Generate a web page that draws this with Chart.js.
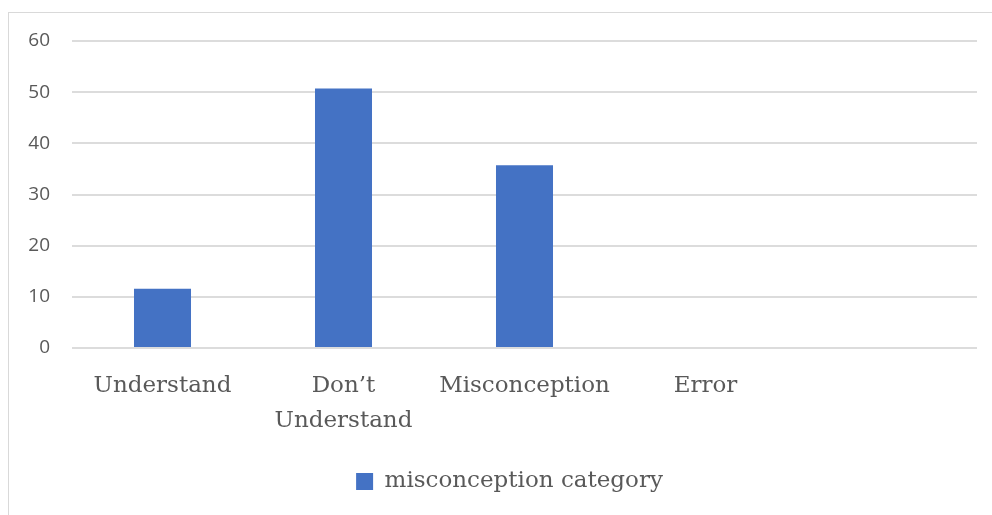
<!DOCTYPE html>
<html>
<head>
    <title>Misconception category</title>
    <style>
        body {
            margin: 0;
            background: #ffffff;
        }
        #frame {
            position: absolute;
            left: 8px;
            top: 12px;
            width: 1000px;
            height: 520px;
            border-top: 1px solid #d9d9d9;
            border-left: 1px solid #d9d9d9;
        }
        #chartContainer {
            position: absolute;
            left: 0;
            top: 0;
            width: 992px;
            height: 515px;
        }
    </style>
    <script src="https://cdn.jsdelivr.net/npm/chart.js"></script>
</head>
<body>
    <div id="frame"></div>
    <div id="chartContainer">
        <canvas id="myChart"></canvas>
    </div>

    <script>
        // data
        let categories = [["Understand"], ["Don\u2019t", "Understand"], ["Misconception"], ["Error"], [""]];
        let seriesName = 'misconception category';
        let values = [11.6, 50.7, 35.7, 0, null];
        let yTicks = [0, 10, 20, 30, 40, 50, 60];

        // legend sits a bit right of the canvas centre in the original
        const legendShift = {
            id: 'legendShift',
            afterLayout(chart) {
                chart.legend.left += 21;
                chart.legend.right += 21;
            }
        };

        let ctx = document.getElementById('myChart').getContext('2d');
        let myChart = new Chart(ctx, {
            type: 'bar',
            data: {
                labels: categories,
                datasets: [{
                    label: seriesName,
                    data: values,
                    backgroundColor: '#4472C4',
                    borderWidth: 0,
                    barPercentage: 0.315,
                    categoryPercentage: 1
                }]
            },
            options: {
                responsive: true,
                maintainAspectRatio: false,
                animation: false,
                layout: {
                    padding: { left: 0, right: 15, top: 41, bottom: 12 }
                },
                plugins: {
                    tooltip: { enabled: false },
                    legend: {
                        position: 'bottom',
                        labels: {
                            boxWidth: 17,
                            boxHeight: 17,
                            padding: 10,
                            color: '#595959',
                            font: { family: 'DejaVu Serif', size: 23 }
                        }
                    }
                },
                scales: {
                    x: {
                        grid: { display: false },
                        border: { display: false },
                        ticks: {
                            color: '#595959',
                            padding: 12,
                            maxRotation: 0,
                            autoSkip: false,
                            font: { family: 'DejaVu Serif', size: 23, lineHeight: 1.55 }
                        },
                        afterFit: function(scale) { scale.height = 112; }
                    },
                    y: {
                        min: 0,
                        max: 60,
                        afterBuildTicks: function(scale) {
                            scale.ticks = yTicks.map(v => ({ value: v }));
                        },
                        grid: { color: '#dcdcdc', lineWidth: 2, drawTicks: false },
                        border: { display: false },
                        ticks: {
                            color: '#595959',
                            padding: 22,
                            font: { family: 'Open Sans', size: 19 }
                        },
                        afterFit: function(scale) { scale.width = 72; }
                    }
                }
            },
            plugins: [legendShift]
        });
    </script>
</body>
</html>
